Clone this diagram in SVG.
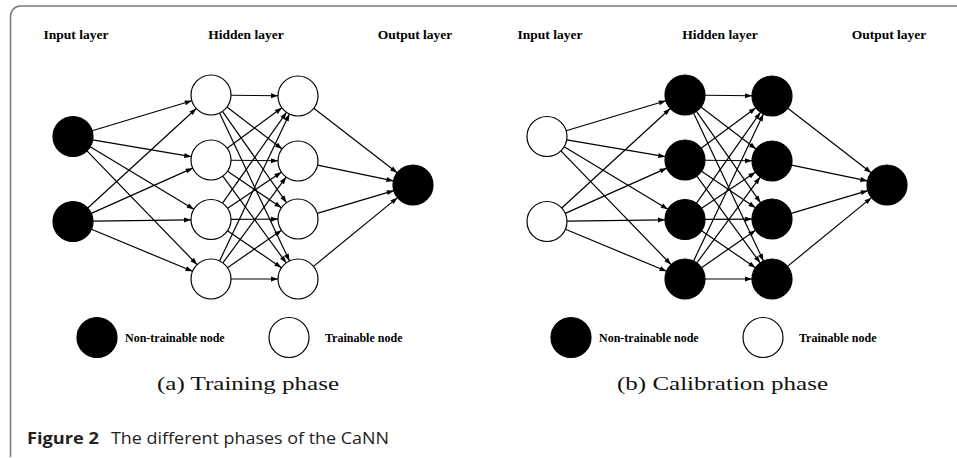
<svg xmlns="http://www.w3.org/2000/svg" width="957" height="458" viewBox="0 0 957 458">
<style>
.c{stroke:#000;stroke-width:1.2;fill:none;marker-end:url(#ah)}
.nf{fill:#000;stroke:#000;stroke-width:1.2}
.nw{fill:#fff;stroke:#000;stroke-width:1.2}
.lay{font-family:"Liberation Serif",serif;font-weight:bold;font-size:13.5px;fill:#000;text-anchor:middle}
.leg{font-family:"Liberation Serif",serif;font-weight:bold;font-size:12px;fill:#000}
.sub{font-family:"Liberation Serif",serif;font-size:18px;fill:#111}
.cap{font-family:"Open Sans","Noto Sans",sans-serif;font-size:16.5px;fill:#231f20}
</style>
<defs>
<marker id="ah" markerUnits="userSpaceOnUse" markerWidth="8" markerHeight="6" refX="7" refY="2.5" orient="auto" overflow="visible">
<path d="M0,0 L7,2.5 L0,5 z" fill="#000"/>
</marker>
</defs>
<rect width="957" height="458" fill="#fff"/>
<path d="M10.5,457 V16 A10,10 0 0 1 20.5,6 H957" fill="none" stroke="#7a7a7a" stroke-width="1.5"/>

<g id="panel-a">
<g id="a-labels">
<text class="lay" x="76" y="38.5">Input layer</text>
<text class="lay" x="246" y="38.5">Hidden layer</text>
<text class="lay" x="415" y="38.5">Output layer</text>
</g>
<g id="a-connectors">
<line class="c" x1="92.15" y1="130.74" x2="191.85" y2="100.76"/>
<line class="c" x1="92.72" y1="139.86" x2="191.28" y2="156.64"/>
<line class="c" x1="90.14" y1="146.81" x2="193.86" y2="209.19"/>
<line class="c" x1="86.91" y1="150.87" x2="197.09" y2="264.63"/>
<line class="c" x1="87.74" y1="207.99" x2="196.26" y2="108.51"/>
<line class="c" x1="91.27" y1="213.36" x2="192.73" y2="168.14"/>
<line class="c" x1="93" y1="221.21" x2="191" y2="219.79"/>
<line class="c" x1="91.46" y1="229.19" x2="192.54" y2="271.31"/>
<line class="c" x1="231" y1="95.23" x2="278" y2="95.77"/>
<line class="c" x1="226.93" y1="107.09" x2="282.07" y2="148.91"/>
<line class="c" x1="222.49" y1="111.37" x2="286.51" y2="202.63"/>
<line class="c" x1="219.55" y1="113.08" x2="289.45" y2="260.92"/>
<line class="c" x1="227.11" y1="148.15" x2="281.89" y2="107.85"/>
<line class="c" x1="231" y1="160.23" x2="278" y2="160.77"/>
<line class="c" x1="227.55" y1="171.23" x2="281.45" y2="207.77"/>
<line class="c" x1="222.8" y1="176.15" x2="286.2" y2="262.85"/>
<line class="c" x1="222.52" y1="203.15" x2="286.48" y2="112.35"/>
<line class="c" x1="227.6" y1="208.34" x2="281.4" y2="172.16"/>
<line class="c" x1="231" y1="219.39" x2="278" y2="219.11"/>
<line class="c" x1="227.51" y1="230.79" x2="281.49" y2="267.71"/>
<line class="c" x1="219.59" y1="260.94" x2="289.41" y2="114.06"/>
<line class="c" x1="222.87" y1="262.9" x2="286.13" y2="177.1"/>
<line class="c" x1="227.46" y1="267.65" x2="281.54" y2="230.35"/>
<line class="c" x1="231" y1="279" x2="278" y2="279"/>
<line class="c" x1="313.82" y1="108.24" x2="397.18" y2="172.76"/>
<line class="c" x1="317.58" y1="165.09" x2="393.42" y2="180.91"/>
<line class="c" x1="317.18" y1="213.33" x2="393.82" y2="190.67"/>
<line class="c" x1="313.49" y1="266.34" x2="397.51" y2="197.66"/>
</g>
<g id="a-in1"><circle class="nf" cx="73" cy="136.5" r="20"/></g>
<g id="a-in2"><circle class="nf" cx="73" cy="221.5" r="20"/></g>
<g id="a-h1-1"><circle class="nw" cx="211" cy="95" r="20"/></g>
<g id="a-h1-2"><circle class="nw" cx="211" cy="160" r="20"/></g>
<g id="a-h1-3"><circle class="nw" cx="211" cy="219.5" r="20"/></g>
<g id="a-h1-4"><circle class="nw" cx="211" cy="279" r="20"/></g>
<g id="a-h2-1"><circle class="nw" cx="298" cy="96" r="20"/></g>
<g id="a-h2-2"><circle class="nw" cx="298" cy="161" r="20"/></g>
<g id="a-h2-3"><circle class="nw" cx="298" cy="219" r="20"/></g>
<g id="a-h2-4"><circle class="nw" cx="298" cy="279" r="20"/></g>
<g id="a-out"><circle class="nf" cx="413" cy="185" r="20"/></g>
<g id="a-legend-nontrainable"><circle class="nf" cx="97" cy="337.5" r="20"/><text class="leg" x="125" y="342.3">Non-trainable node</text></g>
<g id="a-legend-trainable"><circle class="nw" cx="289" cy="337.5" r="20"/><text class="leg" x="325" y="342.3">Trainable node</text></g>
<text class="sub" x="157" y="390" textLength="182" lengthAdjust="spacingAndGlyphs">(a) Training phase</text>
</g>

<g id="panel-b" transform="translate(474,0)">
<g id="b-labels">
<text class="lay" x="76" y="38.5">Input layer</text>
<text class="lay" x="246" y="38.5">Hidden layer</text>
<text class="lay" x="415" y="38.5">Output layer</text>
</g>
<g id="b-connectors">
<line class="c" x1="92.15" y1="130.74" x2="191.85" y2="100.76"/>
<line class="c" x1="92.72" y1="139.86" x2="191.28" y2="156.64"/>
<line class="c" x1="90.14" y1="146.81" x2="193.86" y2="209.19"/>
<line class="c" x1="86.91" y1="150.87" x2="197.09" y2="264.63"/>
<line class="c" x1="87.74" y1="207.99" x2="196.26" y2="108.51"/>
<line class="c" x1="91.27" y1="213.36" x2="192.73" y2="168.14"/>
<line class="c" x1="93" y1="221.21" x2="191" y2="219.79"/>
<line class="c" x1="91.46" y1="229.19" x2="192.54" y2="271.31"/>
<line class="c" x1="231" y1="95.23" x2="278" y2="95.77"/>
<line class="c" x1="226.93" y1="107.09" x2="282.07" y2="148.91"/>
<line class="c" x1="222.49" y1="111.37" x2="286.51" y2="202.63"/>
<line class="c" x1="219.55" y1="113.08" x2="289.45" y2="260.92"/>
<line class="c" x1="227.11" y1="148.15" x2="281.89" y2="107.85"/>
<line class="c" x1="231" y1="160.23" x2="278" y2="160.77"/>
<line class="c" x1="227.55" y1="171.23" x2="281.45" y2="207.77"/>
<line class="c" x1="222.8" y1="176.15" x2="286.2" y2="262.85"/>
<line class="c" x1="222.52" y1="203.15" x2="286.48" y2="112.35"/>
<line class="c" x1="227.6" y1="208.34" x2="281.4" y2="172.16"/>
<line class="c" x1="231" y1="219.39" x2="278" y2="219.11"/>
<line class="c" x1="227.51" y1="230.79" x2="281.49" y2="267.71"/>
<line class="c" x1="219.59" y1="260.94" x2="289.41" y2="114.06"/>
<line class="c" x1="222.87" y1="262.9" x2="286.13" y2="177.1"/>
<line class="c" x1="227.46" y1="267.65" x2="281.54" y2="230.35"/>
<line class="c" x1="231" y1="279" x2="278" y2="279"/>
<line class="c" x1="313.82" y1="108.24" x2="397.18" y2="172.76"/>
<line class="c" x1="317.58" y1="165.09" x2="393.42" y2="180.91"/>
<line class="c" x1="317.18" y1="213.33" x2="393.82" y2="190.67"/>
<line class="c" x1="313.49" y1="266.34" x2="397.51" y2="197.66"/>
</g>
<g id="b-in1"><circle class="nw" cx="73" cy="136.5" r="20"/></g>
<g id="b-in2"><circle class="nw" cx="73" cy="221.5" r="20"/></g>
<g id="b-h1-1"><circle class="nf" cx="211" cy="95" r="20"/></g>
<g id="b-h1-2"><circle class="nf" cx="211" cy="160" r="20"/></g>
<g id="b-h1-3"><circle class="nf" cx="211" cy="219.5" r="20"/></g>
<g id="b-h1-4"><circle class="nf" cx="211" cy="279" r="20"/></g>
<g id="b-h2-1"><circle class="nf" cx="298" cy="96" r="20"/></g>
<g id="b-h2-2"><circle class="nf" cx="298" cy="161" r="20"/></g>
<g id="b-h2-3"><circle class="nf" cx="298" cy="219" r="20"/></g>
<g id="b-h2-4"><circle class="nf" cx="298" cy="279" r="20"/></g>
<g id="b-out"><circle class="nf" cx="413" cy="185" r="20"/></g>
<g id="b-legend-nontrainable"><circle class="nf" cx="97" cy="337.5" r="20"/><text class="leg" x="125" y="342.3">Non-trainable node</text></g>
<g id="b-legend-trainable"><circle class="nw" cx="289" cy="337.5" r="20"/><text class="leg" x="325" y="342.3">Trainable node</text></g>
<text class="sub" x="143" y="390" textLength="211" lengthAdjust="spacingAndGlyphs">(b) Calibration phase</text>
</g>

<g id="caption">
<text class="cap" x="27" y="444" font-weight="bold" textLength="72" lengthAdjust="spacingAndGlyphs">Figure 2</text>
<text class="cap" x="111" y="444" textLength="278" lengthAdjust="spacingAndGlyphs">The different phases of the CaNN</text>
</g>
</svg>
